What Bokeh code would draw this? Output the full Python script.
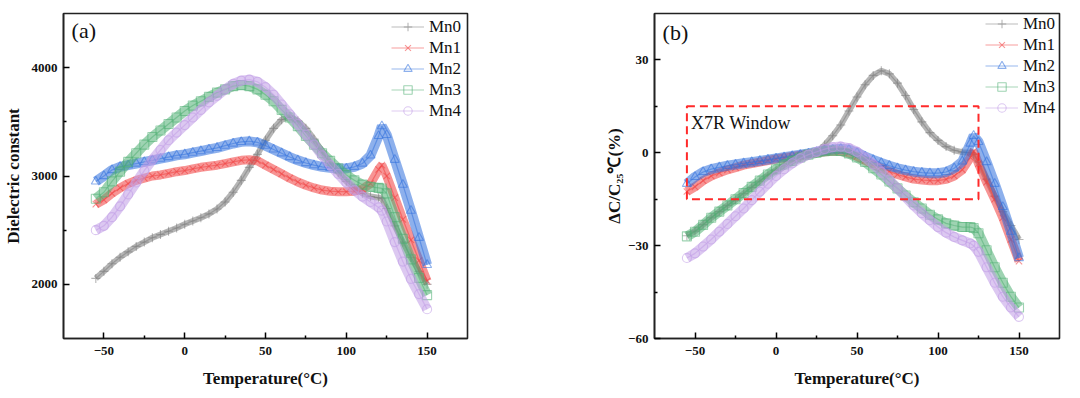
from bokeh.plotting import figure
from bokeh.layouts import row
from bokeh.models import FixedTicker, Legend, LegendItem, Range1d
from bokeh.embed import file_html
from bokeh.resources import INLINE
from bokeh.core.properties import value

# ---------------- data ----------------
temperature = [-55, -50, -45, -40, -35, -30, -25, -20, -15, -10, -5, 0, 5, 10, 15, 20, 25, 30, 35, 40,
               45, 50, 55, 60, 65, 70, 75, 80, 85, 90, 95, 100, 105, 110, 115, 120, 122, 125, 130, 135,
               140, 145, 150]

series_names = ["Mn0", "Mn1", "Mn2", "Mn3", "Mn4"]

# (a) dielectric constant
eps_mn0 = [2055, 2120, 2190, 2250, 2300, 2350, 2390, 2430, 2460, 2490, 2520, 2555, 2585, 2615, 2650, 2695,
           2760, 2850, 2960, 3080, 3200, 3330, 3440, 3520, 3545, 3510, 3440, 3340, 3230, 3120, 3030, 2950,
           2890, 2840, 2810, 2800, 2790, 2700, 2540, 2390, 2250, 2120, 2000]
eps_mn1 = [2740, 2780, 2840, 2890, 2930, 2960, 2980, 3000, 3010, 3025, 3040, 3050, 3065, 3080, 3090, 3100,
           3115, 3130, 3145, 3150, 3140, 3100, 3060, 3020, 2980, 2945, 2915, 2890, 2870, 2860, 2855, 2855,
           2860, 2880, 2930, 3060, 3100, 3000, 2800, 2600, 2410, 2220, 2030]
eps_mn2 = [2950, 3000, 3055, 3085, 3100, 3115, 3130, 3145, 3160, 3175, 3190, 3200, 3215, 3230, 3245, 3260,
           3280, 3300, 3315, 3320, 3310, 3280, 3245, 3210, 3175, 3145, 3120, 3100, 3085, 3075, 3070, 3070,
           3085, 3115, 3190, 3370, 3460, 3380, 3150, 2920, 2680, 2430, 2180]
eps_mn3 = [2790, 2850, 2950, 3040, 3130, 3210, 3290, 3360, 3420, 3480, 3540, 3600, 3650, 3690, 3730, 3770,
           3800, 3830, 3840, 3830, 3800, 3750, 3690, 3610, 3540, 3460, 3370, 3290, 3210, 3140, 3070, 3010,
           2960, 2920, 2900, 2890, 2885, 2840, 2620, 2420, 2230, 2060, 1900]
eps_mn4 = [2500, 2540, 2620, 2720, 2830, 2940, 3050, 3150, 3240, 3330, 3400, 3470, 3540, 3610, 3680, 3740,
           3800, 3850, 3880, 3890, 3870, 3820, 3750, 3660, 3570, 3480, 3380, 3290, 3190, 3100, 3020, 2940,
           2870, 2810, 2760, 2710, 2680, 2580, 2390, 2210, 2050, 1910, 1770]

# (b) capacitance change relative to 25 C (%)
dc_mn0 = [-26.8, -25.3, -23.2, -21, -19, -17, -15.2, -13.2, -11.2, -9.2, -7.2, -5.6, -4, -2.8, -1.7, -0.8,
          0, 2.5, 5.5, 9, 13.5, 18, 22, 25, 26.5, 25.5, 22.5, 18.5, 14, 10, 6.5, 4, 2, 0.8, 0.2, 0, -0.5,
          -3, -8.5, -14, -19, -23.5, -28]
dc_mn1 = [-12.5, -11, -9, -7.5, -6.5, -5.5, -4.8, -4, -3.5, -3, -2.5, -2, -1.6, -1.2, -0.8, -0.4, 0, 0.3,
          0.5, 0.5, 0, -1.2, -2.5, -3.8, -5, -6, -7, -7.8, -8.5, -8.8, -9, -9, -8.6, -7.5, -5.5, -1.5, 0.5,
          -3.5, -9.5, -15, -21, -28, -35]
dc_mn2 = [-10, -7.8, -6.2, -5.3, -4.7, -4.2, -3.8, -3.4, -3, -2.6, -2.2, -1.8, -1.4, -1, -0.6, -0.2, 0.3,
          0.7, 1.1, 1.3, 1, 0, -1.2, -2.3, -3.3, -4.2, -5, -5.6, -6.1, -6.4, -6.6, -6.6, -6.2, -5, -2.8, 3,
          5.5, 3.5, -3, -10, -17.5, -25.5, -34]
dc_mn3 = [-27, -25.5, -23.3, -21, -19, -17, -15, -13, -11, -9, -7, -5.3, -3.8, -2.6, -1.5, -0.6, 0, 0.5,
          0.7, 0.6, -0.2, -1.5, -3, -5, -7, -9.3, -11.5, -13.8, -16, -18, -20, -21.5, -22.8, -23.5, -24, -24,
          -24.3, -26, -31.5, -37, -42, -46.5, -50]
dc_mn4 = [-34, -32.5, -30.3, -28, -25.5, -23, -20.5, -18, -15.3, -12.6, -10, -7.5, -5.3, -3.4, -1.8, -0.6,
          0.3, 1.2, 1.8, 2, 1.5, 0.3, -1.5, -3.7, -6.2, -8.8, -11.5, -14.3, -17, -19.5, -21.8, -24, -25.8,
          -27.2, -28.3, -29.3, -30, -32, -37, -42, -46.5, -50, -53]

# X7R window limits
x7r_temperature = [-55, 125]
x7r_limits = [-15, 15]

x_ticks = [-50, 0, 50, 100, 150]
x_minor = [-25, 25, 75, 125]
eps_ticks = [2000, 3000, 4000]
eps_minor = [2500, 3500]
dc_ticks = [-60, -30, 0, 30]
dc_minor = [-45, -15, 15]

# ---------------- style ----------------
colors = ["#7a7a7a", "#f03c3c", "#2f6fdc", "#4fae72", "#c09ae6"]
markers = ["cross", "x", "triangle", "square", "circle"]
band_widths = [6, 9, 10, 10, 10]
SERIF = "Liberation Serif"


def make_panel(width, border_left, border_right, y_range, y_ticks, y_minor, y_label,
               series, tag, tag_y, legend_xy, label_standoff):
    p = figure(width=width, height=390, output_backend="svg", toolbar_location=None,
               x_range=Range1d(-75, 175), y_range=Range1d(*y_range),
               min_border_left=border_left, min_border_right=border_right,
               min_border_top=13, min_border_bottom=51)
    p.xgrid.visible = False
    p.ygrid.visible = False
    p.outline_line_color = "#222222"
    p.outline_line_width = 1.6
    p.outline_line_alpha = 1

    p.xaxis.ticker = FixedTicker(ticks=x_ticks, minor_ticks=x_minor)
    p.yaxis.ticker = FixedTicker(ticks=y_ticks, minor_ticks=y_minor)
    for ax in (p.xaxis, p.yaxis):
        ax.axis_line_width = 1.6
        ax.axis_line_color = "#222222"
        ax.major_tick_in = 6
        ax.major_tick_out = 0
        ax.minor_tick_in = 3
        ax.minor_tick_out = 0
        ax.major_tick_line_width = 1.5
        ax.minor_tick_line_width = 1.5
        ax.major_label_text_font = SERIF
        ax.major_label_text_font_style = "bold"
        ax.major_label_text_font_size = "13px"
        ax.major_label_text_color = "#111111"
        ax.axis_label_text_font = SERIF
        ax.axis_label_text_font_style = "bold"
        ax.axis_label_text_color = "#111111"
    p.xaxis.major_label_standoff = 8
    p.yaxis.major_label_standoff = 6
    p.xaxis.axis_label = "Temperature(°C)"
    p.xaxis.axis_label_text_font_size = "17px"
    p.xaxis.axis_label_standoff = 11
    p.yaxis.axis_label = y_label
    p.yaxis.axis_label_text_font_size = "17px"
    p.yaxis.axis_label_standoff = label_standoff

    items = []
    for name, vals, c, m, bw in zip(series_names, series, colors, markers, band_widths):
        p.line(temperature, vals, line_width=bw, line_alpha=0.55, color=c)
        thin = p.line(temperature, vals, line_width=1.2, line_alpha=0.5, color=c)
        sc = p.scatter(temperature, vals, marker=m, size=9, fill_alpha=0,
                       line_color=c, line_alpha=0.55, line_width=1.1)
        items.append(LegendItem(label=name, renderers=[thin, sc]))

    p.text(x=[-70], y=[tag_y], text=[tag], text_font=value(SERIF), text_font_size="22px",
           text_baseline="top", text_align="left", text_color="#111111")

    legend = Legend(items=items, location=legend_xy)
    legend.background_fill_alpha = 0
    legend.border_line_alpha = 0
    legend.label_text_font = SERIF
    legend.label_text_font_size = "17px"
    legend.label_text_color = "#111111"
    legend.glyph_width = 33
    legend.glyph_height = 21
    legend.label_height = 21
    legend.label_standoff = 5
    legend.spacing = 0
    legend.padding = 2
    legend.margin = 0
    p.add_layout(legend)
    return p


pa = make_panel(548, 62, 81, (1500, 4500), eps_ticks, eps_minor, "Dielectric constant",
                [eps_mn0, eps_mn1, eps_mn2, eps_mn3, eps_mn4], "(a)", 4455, (326, 215), 6)

pb = make_panel(520, 106, 9, (-60, 45), dc_ticks, dc_minor, "ΔC/C₂₅℃(%)",
                [dc_mn0, dc_mn1, dc_mn2, dc_mn3, dc_mn4], "(b)", 42.9, (329, 218), 1)

pb.quad(left=[x7r_temperature[0]], right=[x7r_temperature[1]],
        bottom=[x7r_limits[0]], top=[x7r_limits[1]],
        fill_alpha=0, line_color="#ff2a2a", line_width=2, line_dash="8 5")
pb.text(x=[-52.5], y=[9.6], text=["X7R Window"], text_font=value(SERIF), text_font_size="18px",
        text_baseline="alphabetic", text_align="left", text_color="#111111")

layout = row(pa, pb)
open("out.html", "w").write(file_html(layout, INLINE))
